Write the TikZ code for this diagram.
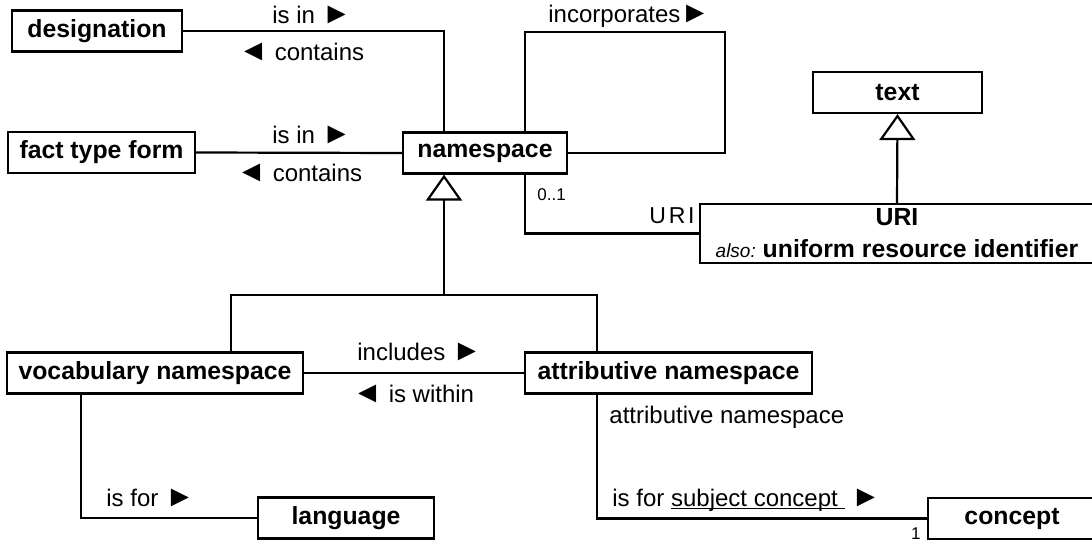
\documentclass[tikz,border=0pt]{standalone}
\usepackage{fontspec}
\setmainfont{Liberation Sans}
\usetikzlibrary{arrows.meta,calc}
\newcommand{\fwdmark}{{\fontsize{15}{15}\selectfont ►}}
\newcommand{\bwdmark}{{\fontsize{15}{15}\selectfont ◄}}

\begin{document}
\begin{tikzpicture}[x=0.5pt,y=-0.5pt,
    every node/.style={font=\fontsize{12}{14}\selectfont},
    cls/.style={draw, line width=1.1pt, inner sep=0pt, minimum height=20.5pt, font=\fontsize{12.4}{15}\selectfont\bfseries},
    assoc/.style={line width=1.1pt},
    gen/.style={line width=1.1pt, -{Triangle[open,length=13pt,width=18pt,line width=1.1pt]}},
    lbl/.style={inner sep=0pt, anchor=base west},
    role/.style={inner sep=0pt, font=\fontsize{8.5}{10}\selectfont}]
\useasboundingbox (0,0) rectangle (1092,540);
\clip (0,0) rectangle (1092,540);

% classes
\node[cls, minimum width=85pt] (desig) at (97,31) {designation};
\node[cls, minimum width=93.5pt] (ftf) at (101.5,152.5) {fact type form};
\node[cls, minimum width=82pt] (ns) at (485,153) {namespace};
\node[cls, minimum width=84.5pt] (text) at (897.5,92.5) {text};
\node[cls, minimum width=197pt, minimum height=29.5pt, align=center] (uri) at (897,233.5)
    {URI\\[1pt]{\mdseries\itshape\fontsize{9.5}{10}\selectfont also:}\ uniform resource identifier};
\node[cls, minimum width=148pt] (voc) at (155,373) {vocabulary namespace};
\node[cls, minimum width=143.5pt] (attr) at (668.5,373) {attributive namespace};
\node[cls, minimum width=88pt] (lang) at (346,518) {language};
\node[cls, minimum width=84pt] (concept) at (1012,518.5) {concept};

% associations
\draw[assoc] (desig.east) -| ($(ns.north)+(-41,0)$);
\node[lbl] (isinA) at (272,24) {is in \fwdmark};
\node[lbl] (containsA) at (238,61) {\bwdmark\ contains};

\draw[assoc] (ftf.east) -- (ns.west);
\node[lbl] (isinB) at (272,143) {is in \fwdmark};
\node[lbl] (containsB) at (236,182) {\bwdmark\ contains};

\coordinate (loopC) at (725,32);
\draw[assoc] ($(ns.north)+(40,0)$) |- (loopC) |- (ns.east);
\node[lbl] (incorp) at (548,23) {incorporates\fwdmark};

\draw[assoc] ($(ns.south)+(40,0)$) |- (uri.west);
\node[role, anchor=base west] (nsMult) at (537,200) {0..1};
\node[lbl, anchor=base east, font=\fontsize{11.5}{13}\selectfont\addfontfeature{LetterSpace=12}] (uriRole) at (695,223) {URI};

\draw[gen] (uri.north) -- (text.south);

% generalization
\coordinate (genJ) at (444,295);
\draw[gen] (genJ) -- (genJ |- ns.south);
\draw[assoc] ($(voc.north)+(76,0)$) |- (genJ) -| ($(attr.north)+(-71.5,0)$);

\draw[assoc] (voc.east) -- (attr.west);
\node[lbl] (incl) at (357,360) {includes \fwdmark};
\node[lbl] (within) at (352,402) {\bwdmark\ is within};

\draw[assoc] ($(voc.south)+(-74,0)$) |- (lang.west);
\node[lbl] (isforA) at (106,506) {is for \fwdmark};

\draw[assoc] ($(attr.south)+(-71.5,0)$) |- (concept.west);
\node[lbl] (attrRole) at (609,423) {attributive namespace};
\node[lbl] (isforB) at (612,506) {is for \underline{\smash{subject concept}\ } \fwdmark};
\node[role, anchor=base east] (conMult) at (921,539) {1};
\end{tikzpicture}
\end{document}
